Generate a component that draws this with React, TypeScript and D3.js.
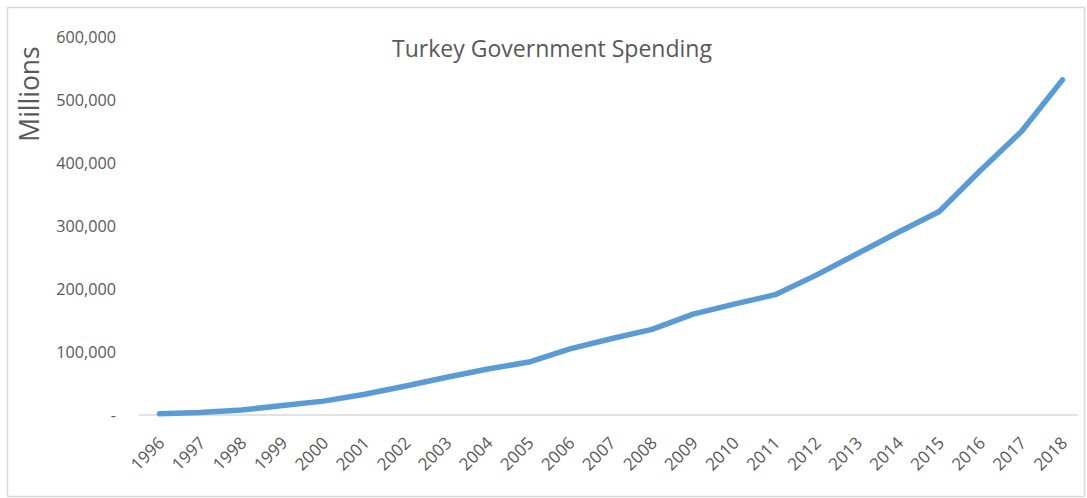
import React from "react";
import * as d3 from "d3";

const years = ["1996","1997","1998","1999","2000","2001","2002","2003","2004","2005","2006","2007","2008","2009","2010","2011","2012","2013","2014","2015","2016","2017","2018"];
const spending = [2000,4000,8000,15000,22000,33000,46000,60000,73000,84000,105000,121000,136000,160000,176000,191000,222000,256000,290000,323000,388000,450000,532000];
const yTicks = [0,100000,200000,300000,400000,500000,600000];

const W = 1087, H = 498;
const plot = { left: 139, right: 1083, top: 37, bottom: 415 };
const font = "'Open Sans', sans-serif";

export default function App() {
  const x = d3.scaleBand<string>().domain(years).range([plot.left, plot.right]);
  const y = d3.scaleLinear().domain([0, 600000]).range([plot.bottom, plot.top]);
  const cx = (d: string) => (x(d) as number) + x.bandwidth() / 2;
  const line = d3.line<number>().x((_, i) => cx(years[i])).y(v => y(v));
  const fmt = (v: number) => (v === 0 ? "-" : d3.format(",")(v));
  return (
    <svg width={W} height={H} style={{ position: "absolute", left: 0, top: 0, display: "block", background: "#fff" }}>
      <rect x={7.5} y={7.5} width={1077} height={489} fill="#fff" stroke="#d9d9d9" strokeWidth={1.5} />
      <text x={552} y={57} textAnchor="middle" fontFamily={font} fontSize={23} fill="#595959">Turkey Government Spending</text>
      <text transform={`translate(39,94) rotate(-90)`} textAnchor="middle" fontFamily={font} fontSize={26.5} fill="#595959">Millions</text>
      {yTicks.map(t => (
        <text key={t} x={116} y={y(t) + 5.5} textAnchor="end" fontFamily={font} fontSize={16.2} fill="#595959">{fmt(t)}</text>
      ))}
      <line x1={plot.left} x2={1078} y1={plot.bottom} y2={plot.bottom} stroke="#d9d9d9" strokeWidth={1.5} />
      {years.map(yr => (
        <text key={yr} transform={`translate(${cx(yr) + 6},${plot.bottom + 29}) rotate(-45)`} textAnchor="end" fontFamily={font} fontSize={17} fill="#595959">{yr}</text>
      ))}
      <path d={line(spending) || ""} fill="none" stroke="#5b9bd5" strokeWidth={5.5} strokeLinecap="round" strokeLinejoin="round" />
    </svg>
  );
}
